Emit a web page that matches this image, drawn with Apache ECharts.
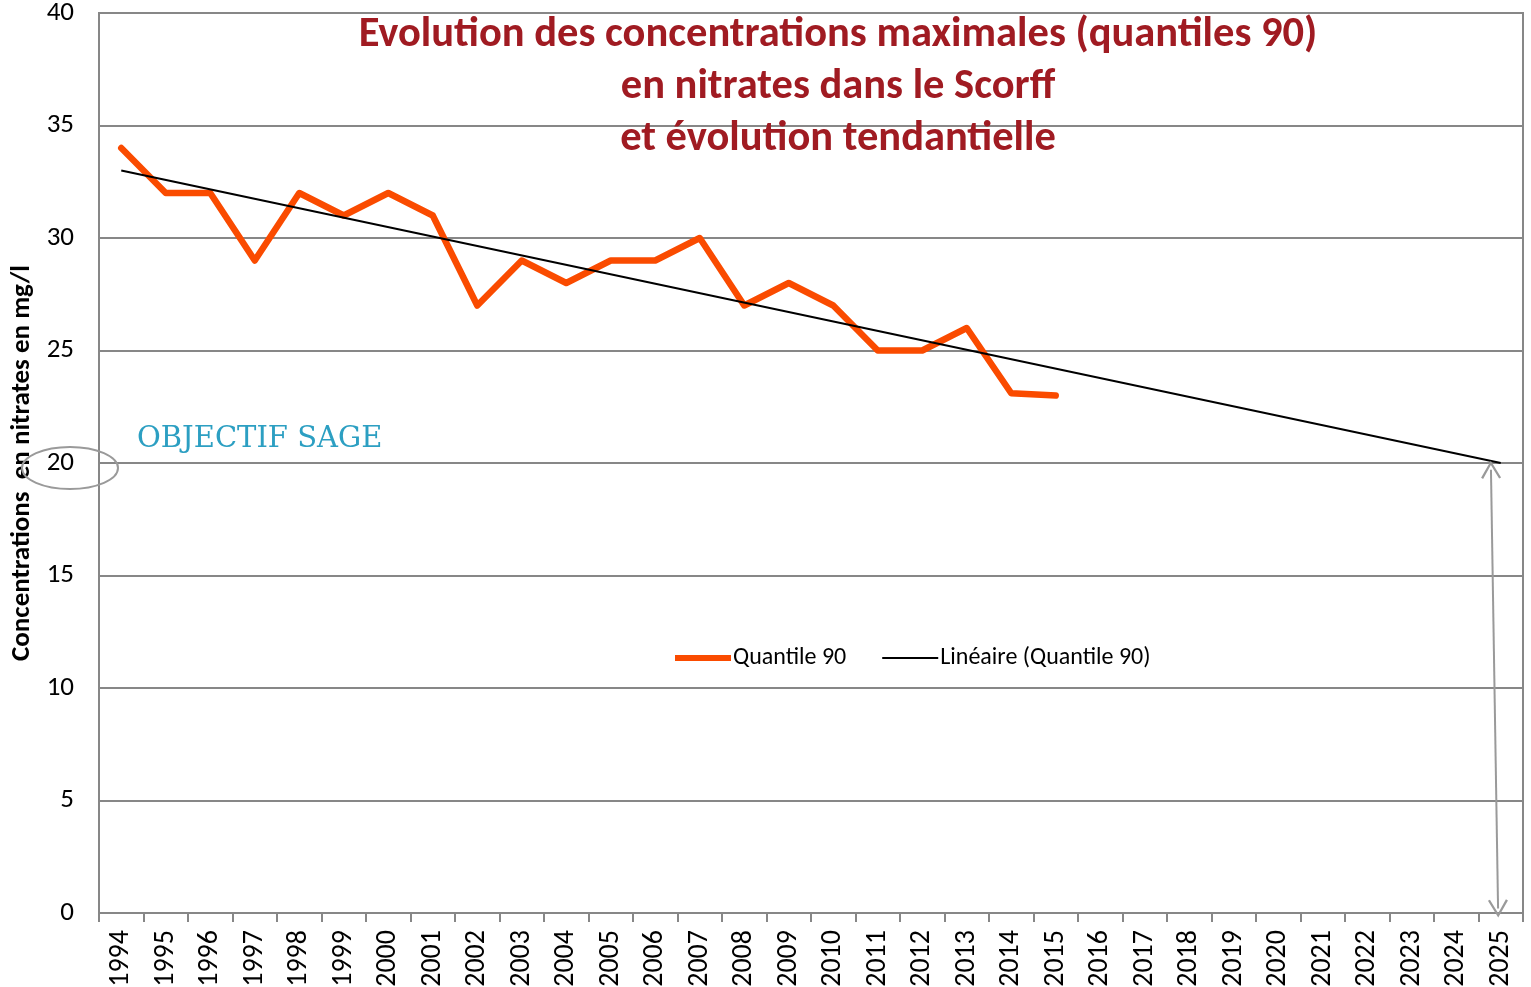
<!DOCTYPE html>
<html><head><meta charset="utf-8">
<script src="https://cdn.jsdelivr.net/npm/echarts@6/dist/echarts.min.js"></script>
<style>html,body{margin:0;padding:0;background:#fff}#c{width:1531px;height:987px}</style>
</head><body><div id="c"></div>
<script>
const years = ['1994','1995','1996','1997','1998','1999','2000','2001','2002','2003','2004','2005','2006','2007','2008','2009','2010','2011','2012','2013','2014','2015','2016','2017','2018','2019','2020','2021','2022','2023','2024','2025'];
const quantile90 = [34,32,32,29,32,31,32,31,27,29,28,29,29,30,27,28,27,25,25,26,23.1,23.0];
const trendStart = 33.0;   // 1994
const trendEnd = 20.0;     // 2025
const trend = years.map((y,i)=> i===0 ? trendStart : (i===years.length-1 ? trendEnd : null));
const yTicks = {min:0, max:40, interval:5};
const titleLines = ['Evolution des concentrations maximales (quantiles 90)','en nitrates dans le Scorff','et évolution tendantielle'];
// annotation arrow (category-index units, value units)
const arrowTop = [30.78, 19.7];
const arrowBottom = [30.94, 0.2];

const FONT = 'Carlito, Lato, sans-serif';
const GRAY = '#878787';
const arrowHead = 'path://M0,0 L10,16 L8,17 L0,4 L-8,17 L-10,16 Z';
const chart = echarts.init(document.getElementById('c'));
chart.setOption({
  animation:false,
  textStyle:{fontFamily:FONT},
  title:{text:titleLines.join('\n'), left:833, top:4, textAlign:'center',
    textStyle:{fontFamily:FONT, fontWeight:'bold', fontSize:42.5, lineHeight:52, color:'#a01b22'}},
  legend:{left:670, top:641, itemWidth:56, itemHeight:14, itemGap:36,
    textStyle:{fontFamily:FONT, fontSize:24, color:'#000', padding:[0,0,0,-3]},
    data:[{name:'Quantile 90', icon:'path://M0,5 L56,5 L56,11 L0,11 Z'},
          {name:'Linéaire (Quantile 90)', icon:'path://M0,7 L56,7 L56,9 L0,9 Z'}]},
  grid:{left:99, right:8, top:13, bottom:74, show:true, borderColor:GRAY, borderWidth:2,
    containLabel:false, outerBoundsMode:'none'},
  xAxis:[{type:'category', data:years, boundaryGap:true,
    axisLine:{lineStyle:{color:GRAY, width:2}},
    axisTick:{show:true, length:9, lineStyle:{color:GRAY, width:2}},
    axisLabel:{rotate:90, fontFamily:FONT, fontSize:28, color:'#000', margin:17, interval:0}},
    {type:'value', min:-0.5, max:years.length-0.5, show:false}],
  yAxis:{type:'value', min:yTicks.min, max:yTicks.max, interval:yTicks.interval,
    name:'Concentrations  en nitrates en mg/l', nameLocation:'middle', nameGap:60, nameRotate:90,
    nameTextStyle:{fontFamily:FONT, fontWeight:'bold', fontSize:27, color:'#000'},
    axisLine:{show:true, onZero:false, lineStyle:{color:GRAY, width:2}},
    axisTick:{show:false},
    splitLine:{lineStyle:{color:GRAY, width:2}},
    axisLabel:{fontFamily:FONT, fontSize:27, color:'#000', margin:25}},
  series:[
    {name:'Quantile 90', type:'line', data:quantile90, symbol:'none',
      lineStyle:{color:'#fa4b00', width:6.5, cap:'round', join:'round'}, itemStyle:{color:'#fa4b00'}, z:3},
    {name:'Linéaire (Quantile 90)', type:'line', data:trend, connectNulls:true, symbol:'none',
      lineStyle:{color:'#000', width:2}, itemStyle:{color:'#000'}, z:4},
    {name:'arrow', type:'line', xAxisIndex:1, data:[], symbol:'none',
      markLine:{silent:true, symbol:[arrowHead, arrowHead], symbolSize:[20,18], label:{show:false},
        lineStyle:{color:'#9a9a9a', width:2, type:'solid'},
        data:[[{coord:arrowTop},{coord:arrowBottom}]]}}
  ],
  graphic:[
    {type:'ellipse', shape:{cx:70, cy:468, rx:48, ry:21}, style:{fill:'none', stroke:'#9a9a9a', lineWidth:2}, z:10},
    {type:'text', left:137, top:425, style:{text:'OBJECTIF SAGE', font:'29px "DejaVu Serif", "Liberation Serif", serif', fill:'#2c9fc2'}, z:10}
  ]
});
</script></body></html>
